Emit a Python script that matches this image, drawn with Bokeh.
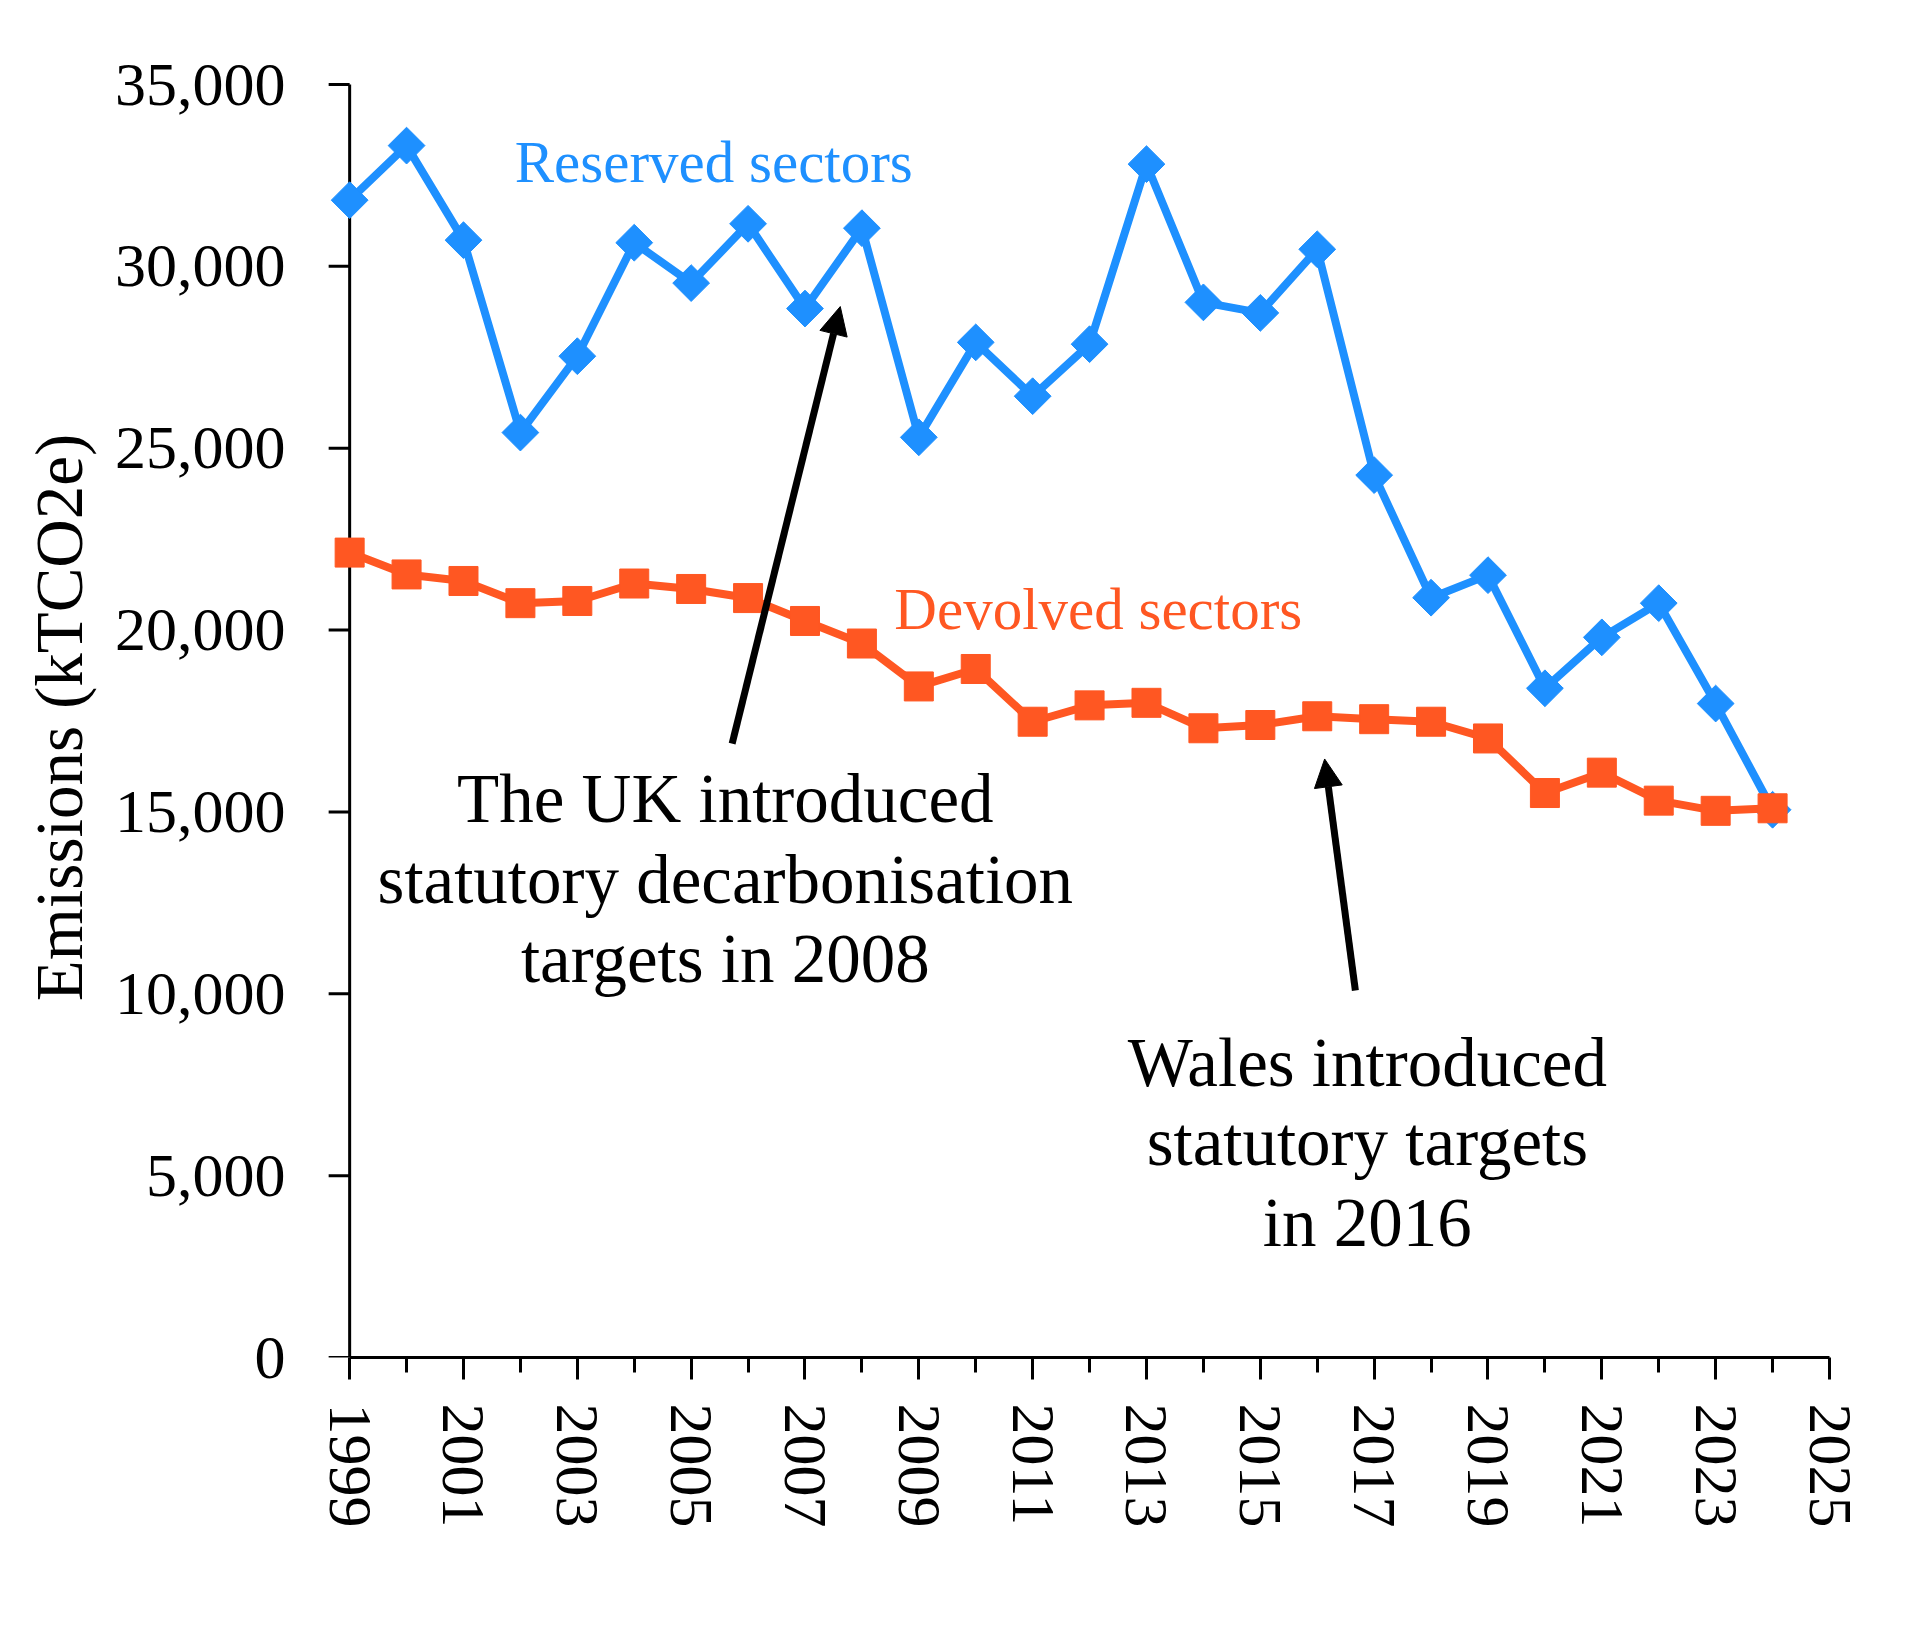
import numpy as np
from bokeh.plotting import figure
from bokeh.models import Range1d, FixedTicker, NumeralTickFormatter, Label, Arrow, NormalHead
from bokeh.embed import file_html
from bokeh.resources import INLINE

years = list(range(1999, 2025))
reserved = [31820, 33320, 30720, 25430, 27530, 30650, 29540, 31170, 28840, 31050,
            25300, 27910, 26430, 27860, 32810, 29010, 28720, 30470, 24260, 20890,
            21510, 18400, 19800, 20740, 17980, 15060]
devolved = [22130, 21530, 21350, 20740, 20800, 21280, 21130, 20880, 20250, 19630,
            18450, 18930, 17480, 17930, 18000, 17300, 17390, 17630, 17550, 17480,
            17020, 15520, 16080, 15310, 15030, 15100]
year_ticks = list(range(1999, 2026, 2))
year_minor = list(range(2000, 2025, 2))
y_ticks = list(range(0, 35001, 5000))
series_names = ["Reserved sectors", "Devolved sectors"]
uk_note = ["The UK introduced", "statutory decarbonisation", "targets in 2008"]
wales_note = ["Wales introduced", "statutory targets", "in 2016"]
y_title = "Emissions (kTCO2e)"

BLUE = "#1E90FF"
ORANGE = "#FF5722"
FONT = "Liberation Serif"

X0, X1 = years[0], year_ticks[-1]
Y0, Y1 = y_ticks[0], y_ticks[-1]

p = figure(width=1920, height=1639,
           x_range=Range1d(X0 - 0.6, X1), y_range=Range1d(Y0, Y1 + 192.5),
           output_backend="svg", toolbar_location=None,
           min_border_left=315, min_border_right=91, min_border_top=77, min_border_bottom=282)
p.outline_line_color = None
p.grid.visible = False
p.background_fill_color = "white"
p.border_fill_color = "white"

# y axis: labels from Bokeh's axis, line and ticks drawn at x = 1999
ya = p.yaxis[0]
ya.ticker = FixedTicker(ticks=y_ticks)
ya.formatter = NumeralTickFormatter(format="0,0")
ya.axis_line_color = None
ya.major_tick_line_color = None
ya.minor_tick_line_color = None
ya.major_tick_out = 0
ya.major_tick_in = 0
ya.minor_tick_out = 0
ya.minor_tick_in = 0
ya.major_label_text_font = FONT
ya.major_label_text_font_size = "62px"
ya.major_label_text_color = "black"
ya.major_label_standoff = 30
ya.axis_label = y_title
ya.axis_label_text_font = FONT
ya.axis_label_text_font_size = "67px"
ya.axis_label_text_font_style = "normal"
ya.axis_label_text_color = "black"
ya.axis_label_standoff = 16

tick_len = 21 / 56.917  # 21 px expressed in years
p.segment(x0=[X0] * 1, y0=[Y0], x1=[X0], y1=[Y1], line_width=3, line_color="black")
p.segment(x0=[X0 - tick_len] * len(y_ticks), y0=y_ticks, x1=[X0] * len(y_ticks), y1=y_ticks,
          line_width=3, line_color="black")

# x axis
xa = p.xaxis[0]
xa.bounds = (X0, X1)
xa.ticker = FixedTicker(ticks=year_ticks, minor_ticks=year_minor)
xa.axis_line_width = 3
xa.axis_line_color = "black"
xa.major_tick_out = 22
xa.major_tick_in = 0
xa.minor_tick_out = 15
xa.minor_tick_in = 0
xa.major_tick_line_width = 3
xa.minor_tick_line_width = 3
xa.minor_tick_line_color = "black"
xa.major_label_orientation = "vertical"
xa.major_label_text_font = FONT
xa.major_label_text_font_size = "62px"
xa.major_label_text_color = "black"
xa.major_label_standoff = 24

# series
p.line(years, reserved, line_color=BLUE, line_width=8)
p.scatter(years, reserved, marker="square", angle=np.pi / 4, size=26,
          fill_color=BLUE, line_color=BLUE, line_width=1)
p.line(years, devolved, line_color=ORANGE, line_width=8)
p.scatter(years, devolved, marker="square", size=29,
          fill_color=ORANGE, line_color=ORANGE, line_width=1)

# series labels
p.add_layout(Label(x=2001.90, y=32857, text=series_names[0], text_font=FONT,
                   text_font_size="59px", text_color=BLUE,
                   text_align="left", text_baseline="alphabetic"))
p.add_layout(Label(x=2008.57, y=20590, text=series_names[1], text_font=FONT,
                   text_font_size="59px", text_color=ORANGE,
                   text_align="left", text_baseline="alphabetic"))

# notes
for txt, yy in zip(uk_note, [15367, 13140, 10967]):
    p.add_layout(Label(x=2005.60, y=yy, text=txt, text_font=FONT, text_font_size="69px",
                       text_color="black", text_align="center", text_baseline="alphabetic"))
for txt, yy in zip(wales_note, [8107, 5934, 3707]):
    p.add_layout(Label(x=2016.88, y=yy, text=txt, text_font=FONT, text_font_size="69px",
                       text_color="black", text_align="center", text_baseline="alphabetic"))

p.add_layout(Arrow(end=NormalHead(size=28, fill_color="black", line_color="black", line_width=1),
                   x_start=2005.72, y_start=16880, x_end=2007.62, y_end=28895,
                   line_width=7, line_color="black"))
p.add_layout(Arrow(end=NormalHead(size=28, fill_color="black", line_color="black", line_width=1),
                   x_start=2016.67, y_start=10090, x_end=2016.13, y_end=16456,
                   line_width=7, line_color="black"))

open("out.html", "w").write(file_html(p, INLINE))
